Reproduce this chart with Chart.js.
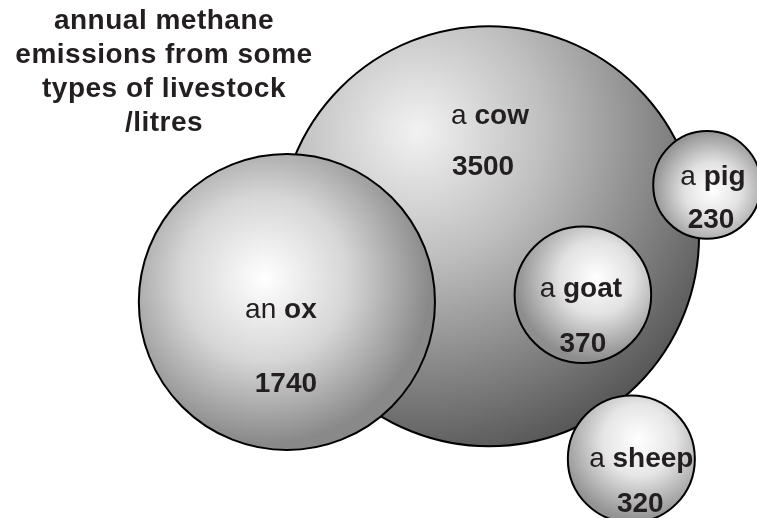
<!DOCTYPE html>
<html>
<head>
<meta charset="utf-8">
<script src="https://cdn.jsdelivr.net/npm/chart.js@4/dist/chart.umd.min.js"></script>
<style>
  html, body { margin: 0; padding: 0; background: #fff; }
  #wrap { width: 757px; height: 518px; }
</style>
</head>
<body>
<div id="wrap"><canvas id="c" width="757" height="518"></canvas></div>
<script>
// ---- data ----
const articles = ['a', 'an', 'a', 'a', 'a'];
const animals = ['cow', 'ox', 'goat', 'pig', 'sheep'];
const emissions = [3500, 1740, 370, 230, 320];
// bubble placement (abstract units, 0-100 on each hidden axis)
const xPos = [64.6, 37.9, 77.0, 93.4, 83.4];
const yPos = [54.4, 41.7, 43.1, 64.3, 11.4];
const titleLines = ['annual methane', 'emissions from some', 'types of livestock', '/litres'];

// ---- styles ----
const K = 3.55; // px radius per sqrt(litre)
const TEXT = '#231f20';
const FONT = '"Liberation Sans", Arial, Helvetica, sans-serif';
// highlight centre offset (fraction of radius), gradient reach (fraction of radius), colour stops
const shading = [
  { h: [-0.34, -0.5], reach: 1.72, stops: [[0, '#f2f2f2'], [0.35, '#bfbfbf'], [1, '#4a4a4a']] },
  { h: [-0.15, -0.16], reach: 1.12, stops: [[0, '#ffffff'], [0.5, '#d6d6d6'], [1, '#898989']] },
  { h: [0.2, -0.25], reach: 1.2, stops: [[0, '#ffffff'], [0.45, '#e2e2e2'], [1, '#8e8e8e']] },
  { h: [0.1, 0.1], reach: 1.15, stops: [[0, '#ffffff'], [0.45, '#e2e2e2'], [1, '#8e8e8e']] },
  { h: [0.12, -0.3], reach: 1.25, stops: [[0, '#ffffff'], [0.45, '#e6e6e6'], [1, '#939393']] }
];
const labelOff = [[1, -112], [-6, 16], [-2, 2], [6, 0], [10, 8]];
const valueOff = [[-6, -61], [-1, 90], [0, 57], [4, 43], [9, 53]];

function radiusOf(i) { return K * Math.sqrt(emissions[i]); }

const gradientPlugin = {
  id: 'sphereFill',
  beforeDatasetsDraw(chart) {
    const c = chart.ctx;
    const meta = chart.getDatasetMeta(0);
    meta.data.forEach((el, i) => {
      const cx = el.x, cy = el.y, r = el.options.radius;
      if (![cx, cy, r].every(Number.isFinite)) return;
      const s = shading[i];
      const hx = cx + s.h[0] * r, hy = cy + s.h[1] * r;
      const g = c.createRadialGradient(hx, hy, 0, hx, hy, s.reach * r);
      s.stops.forEach(([t, col]) => g.addColorStop(t, col));
      el.options.backgroundColor = g;
    });
  }
};

const labelPlugin = {
  id: 'labels',
  afterDatasetsDraw(chart) {
    const c = chart.ctx;
    const meta = chart.getDatasetMeta(0);
    c.save();
    c.fillStyle = TEXT;
    c.textBaseline = 'alphabetic';
    const reg = '28px ' + FONT, bold = 'bold 28px ' + FONT;
    meta.data.forEach((el, i) => {
      const pre = articles[i] + ' ';
      c.font = reg; const w1 = c.measureText(pre).width;
      c.font = bold; const w2 = c.measureText(animals[i]).width;
      const lx = el.x + labelOff[i][0] - (w1 + w2) / 2;
      const ly = el.y + labelOff[i][1];
      c.textAlign = 'left';
      c.font = reg; c.fillText(pre, lx, ly);
      c.font = bold; c.fillText(animals[i], lx + w1, ly);
      c.textAlign = 'center';
      c.fillText(String(emissions[i]), el.x + valueOff[i][0], el.y + valueOff[i][1]);
    });
    c.font = bold;
    c.textAlign = 'center';
    if ('letterSpacing' in c) c.letterSpacing = '0.5px';
    titleLines.forEach((t, k) => c.fillText(t, 164, 29 + k * 34));
    c.restore();
  }
};

new Chart(document.getElementById('c'), {
  type: 'bubble',
  data: {
    datasets: [{
      label: 'annual methane emissions / litres',
      data: emissions.map((v, i) => ({ x: xPos[i], y: yPos[i], r: radiusOf(i) })),
      backgroundColor: '#cccccc',
      borderColor: '#000',
      borderWidth: 2,
      hoverBorderWidth: 2,
      hoverRadius: 0,
      clip: false
    }]
  },
  options: {
    responsive: false,
    animation: false,
    events: [],
    layout: { padding: 0, autoPadding: false },
    scales: {
      x: { type: 'linear', min: 0, max: 100, display: false },
      y: { type: 'linear', min: 0, max: 100, display: false }
    },
    plugins: { legend: { display: false }, tooltip: { enabled: false }, title: { display: false } }
  },
  plugins: [gradientPlugin, labelPlugin]
});
</script>
</body>
</html>
